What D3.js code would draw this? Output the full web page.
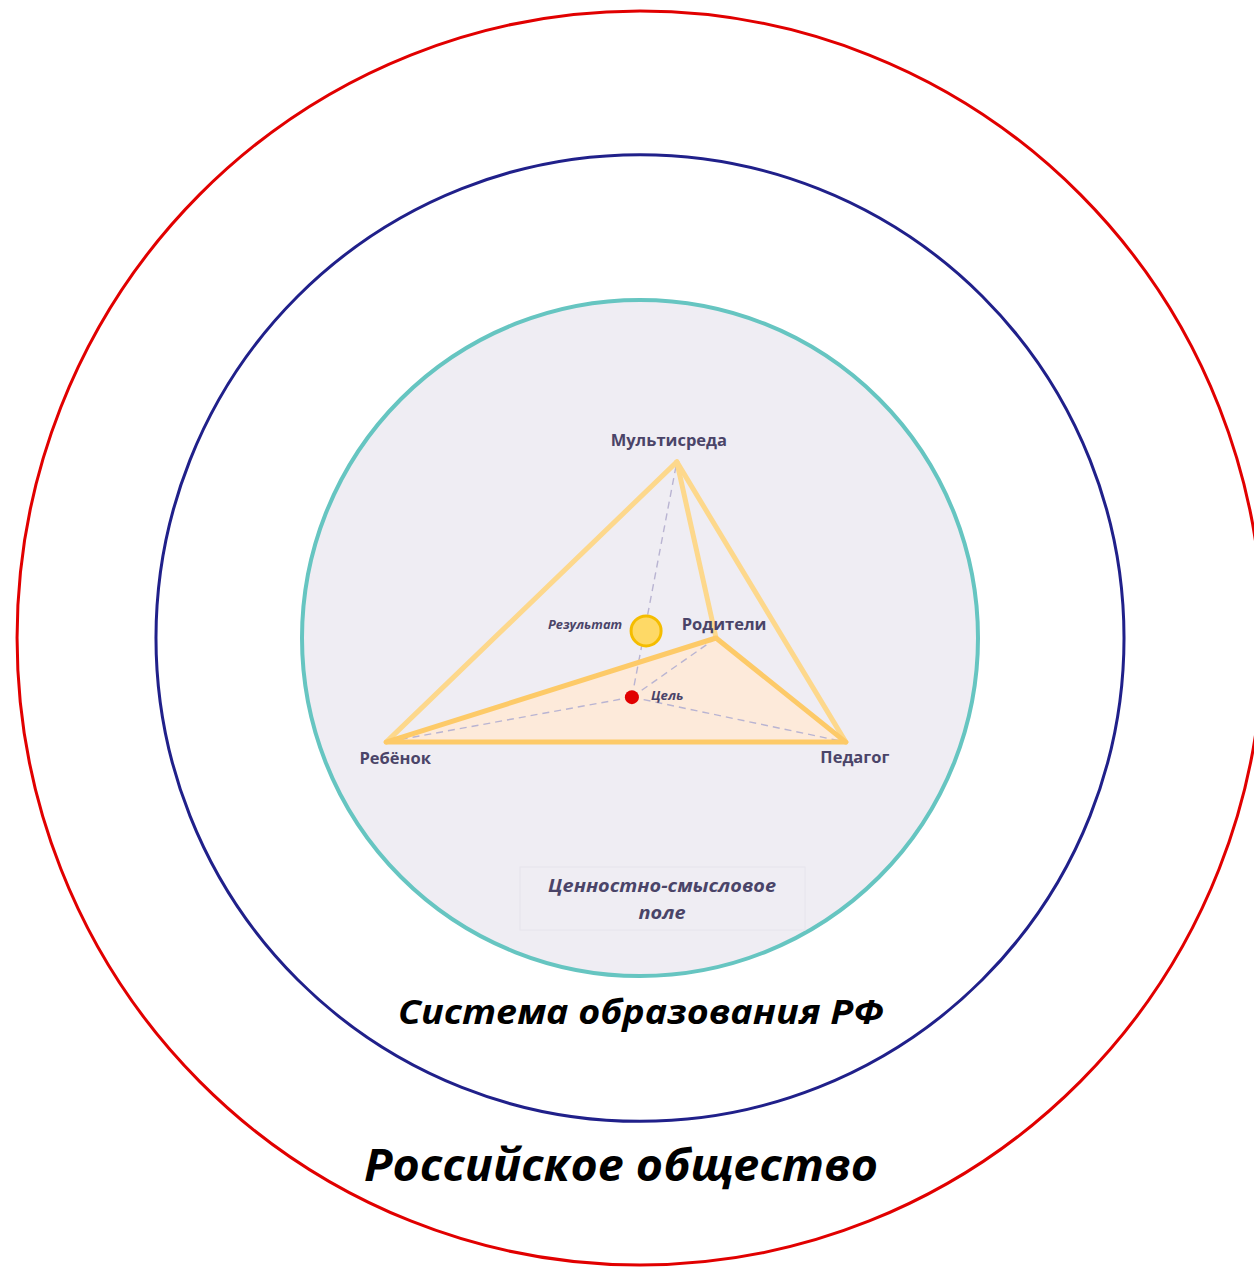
<!DOCTYPE html>
<html>
<head>
<meta charset="utf-8">
<script src="https://cdnjs.cloudflare.com/ajax/libs/d3/7.8.5/d3.min.js"></script>
<style>
  html, body { margin: 0; padding: 0; background: #fff; }
  svg { display: block; }
</style>
</head>
<body>
<div id="chart"></div>
<script>
// DATOS (unidades: radio del círculo interior = 1)

const rings = ["Ценностно-смысловое поле", "Система образования РФ", "Российское общество"]
const ringRx = [1, 1.432, 1.843]
const ringRy = [1, 1.430, 1.855]

const nodes = ["Мультисреда", "Родители", "Ребёнок", "Педагог"]
const nodeX = [0.109, 0.225, -0.751, 0.609]
const nodeY = [0.521, 0, -0.308, -0.308]

const goal = { name: "Цель", x: -0.024, y: -0.175 }
const result = { name: "Результат", x: 0.018, y: 0.021 }

// aristas de la pirámide
const backEdges = [["Мультисреда", "Ребёнок"], ["Мультисреда", "Педагог"], ["Мультисреда", "Родители"]]
const baseFace = ["Ребёнок", "Родители", "Педагог"]

// CONSTANTES

const width = 1254
const height = 1269
const cx = 640, cy = 638, r = 338

const svg = d3.select("#chart").append("svg").attr("width", width).attr("height", height)

const x = d3.scaleLinear().domain([-1, 1]).range([cx - r, cx + r])
const y = d3.scaleLinear().domain([-1, 1]).range([cy + r, cy - r])
const sx = d3.scaleLinear().domain([0, 1]).range([0, r])

const pos = {}
nodes.forEach((n, i) => pos[n] = [x(nodeX[i]), y(nodeY[i])])
pos[goal.name] = [x(goal.x), y(goal.y)]
pos[result.name] = [x(result.x), y(result.y)]

// CÍRCULOS

const ringStyle = [
    { stroke: "#66c5c1", width: 4, fill: "#efedf3" },
    { stroke: "#20208a", width: 3, fill: "none" },
    { stroke: "#e10000", width: 3, fill: "none" }
]
const ringData = rings.map((name, i) => ({ name, rx: ringRx[i], ry: ringRy[i], style: ringStyle[i] })).reverse()

svg.append("g").attr("id", "rings").selectAll("ellipse").data(ringData).enter().append("ellipse")
    .attr("cx", cx).attr("cy", cy)
    .attr("rx", d => sx(d.rx)).attr("ry", d => sx(d.ry))
    .attr("fill", d => d.style.fill)
    .attr("stroke", d => d.style.stroke)
    .attr("stroke-width", d => d.style.width)

// CARA BASE

const line = d3.line()
const g = svg.append("g").attr("id", "pyramid")

g.append("path")
    .attr("d", line(baseFace.map(n => pos[n])) + "Z")
    .attr("fill", "#fdeada")
    .attr("stroke", "none")

// LÍNEAS DISCONTINUAS

const dashTargets = ["Мультисреда", "Ребёнок", "Родители", "Педагог"]
g.selectAll("line.dash").data(dashTargets).enter().append("line")
    .attr("class", "dash")
    .attr("x1", pos[goal.name][0]).attr("y1", pos[goal.name][1])
    .attr("x2", d => pos[d][0]).attr("y2", d => pos[d][1])
    .attr("stroke", "#b9b4d2")
    .attr("stroke-width", 1.4)
    .attr("stroke-dasharray", "7,5")

// ARISTAS

g.selectAll("line.back").data(backEdges).enter().append("line")
    .attr("class", "back")
    .attr("x1", d => pos[d[0]][0]).attr("y1", d => pos[d[0]][1])
    .attr("x2", d => pos[d[1]][0]).attr("y2", d => pos[d[1]][1])
    .attr("stroke", "#fdd88c")
    .attr("stroke-width", 5)
    .attr("stroke-linecap", "round")

g.append("path")
    .attr("d", line(baseFace.map(n => pos[n])) + "Z")
    .attr("fill", "none")
    .attr("stroke", "#fdca68")
    .attr("stroke-width", 5)
    .attr("stroke-linejoin", "round")

// PUNTOS

g.append("circle")
    .attr("cx", pos[result.name][0]).attr("cy", pos[result.name][1])
    .attr("r", 15)
    .attr("fill", "#fed966")
    .attr("stroke", "#f5bd00")
    .attr("stroke-width", 3)

g.append("circle")
    .attr("cx", pos[goal.name][0]).attr("cy", pos[goal.name][1])
    .attr("r", 7)
    .attr("fill", "#e10000")

// ETIQUETAS

const labelColor = "#4a4468"
const labelOffset = {
    "Мультисреда": [-8, -16],
    "Родители": [8, -8],
    "Ребёнок": [9, 22],
    "Педагог": [9, 21]
}
g.selectAll("text.node").data(nodes).enter().append("text")
    .attr("class", "node")
    .attr("x", d => pos[d][0] + labelOffset[d][0])
    .attr("y", d => pos[d][1] + labelOffset[d][1])
    .attr("text-anchor", "middle")
    .attr("font-family", "'Open Sans', sans-serif")
    .attr("font-weight", 700)
    .attr("font-size", 16.5)
    .attr("fill", labelColor)
    .text(d => d)

g.append("text")
    .attr("x", pos[result.name][0] - 24).attr("y", pos[result.name][1] - 2)
    .attr("text-anchor", "end")
    .attr("font-family", "'Open Sans', sans-serif")
    .attr("font-weight", 700).attr("font-style", "italic")
    .attr("font-size", 12.8)
    .attr("fill", labelColor)
    .text(result.name)

g.append("text")
    .attr("x", pos[goal.name][0] + 19).attr("y", pos[goal.name][1] + 2.5)
    .attr("font-family", "'Open Sans', sans-serif")
    .attr("font-weight", 700).attr("font-style", "italic")
    .attr("font-size", 13.2)
    .attr("fill", labelColor)
    .text(goal.name)

// TÍTULOS DE LOS ANILLOS

g.append("rect")
    .attr("x", 520).attr("y", 867).attr("width", 285).attr("height", 63)
    .attr("fill", "none").attr("stroke", "#e6e4ec").attr("stroke-width", 1)

const fieldText = g.append("text")
    .attr("text-anchor", "middle")
    .attr("font-family", "'Open Sans', sans-serif")
    .attr("font-weight", 700).attr("font-style", "italic")
    .attr("font-size", 18)
    .attr("fill", labelColor)
fieldText.append("tspan").attr("x", 662).attr("y", 892)
    .attr("textLength", 228).attr("lengthAdjust", "spacingAndGlyphs").text("Ценностно-смысловое")
fieldText.append("tspan").attr("x", 662).attr("y", 919)
    .attr("textLength", 47).attr("lengthAdjust", "spacingAndGlyphs").text("поле")

const titles = [
    { text: rings[1], x: 641, y: 1024, size: 34, w: 486 },
    { text: rings[2], x: 621, y: 1181, size: 45, w: 514 }
]
svg.selectAll("text.title").data(titles).enter().append("text")
    .attr("class", "title")
    .attr("x", d => d.x).attr("y", d => d.y)
    .attr("text-anchor", "middle")
    .attr("font-family", "'Open Sans', sans-serif")
    .attr("font-weight", 700).attr("font-style", "italic")
    .attr("font-size", d => d.size)
    .attr("textLength", d => d.w)
    .attr("lengthAdjust", "spacingAndGlyphs")
    .attr("fill", "#000")
    .text(d => d.text)
</script>
</body>
</html>
